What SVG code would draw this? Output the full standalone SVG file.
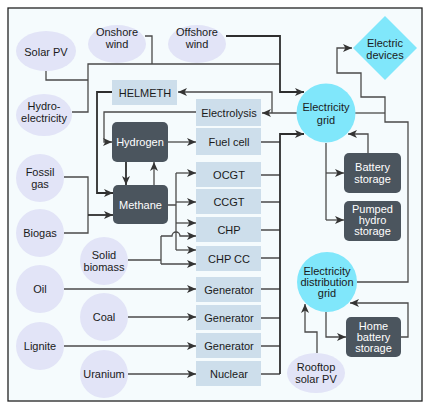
<svg xmlns="http://www.w3.org/2000/svg" width="424" height="404" viewBox="0 0 424 404">
  <style>
    text { font-family: "Liberation Sans", Arial, sans-serif; font-size: 11px; fill: #1a1a1a; text-anchor: middle; }
    .src { fill: #e2e4f7; }
    .conv { fill: #cddeeb; }
    .store { fill: #4b555e; }
    .store-t { fill: #ffffff; }
    .grid { fill: #80e7fb; }
    .ln { fill: none; stroke: #4a4a4a; stroke-width: 1.3; }
    .ln-a { fill: none; stroke: #4a4a4a; stroke-width: 1.3; marker-end: url(#arr); }
    .heavy { stroke: #2e2e2e; stroke-width: 1.8; }
  </style>
  <defs>
    <marker id="arr" markerUnits="userSpaceOnUse" markerWidth="10" markerHeight="9" refX="9" refY="4" orient="auto">
      <path d="M0,0 L9,4 L0,8 L2.4,4 z" fill="#333"/>
    </marker>
  </defs>

  <!-- frame -->
  <rect x="0" y="0" width="424" height="404" fill="#ffffff"/>
  <rect x="8" y="8" width="414" height="393" fill="#f5fbfd" stroke="#222" stroke-width="1.3"/>

  <!-- connectors -->
  <g id="connectors">
    <!-- renewables bus -->
    <path class="ln" d="M145,36 H152 V64"/>
    <path class="ln" d="M46,71 V80 H88"/>
    <path class="ln" d="M72,112 H88 V64 H280"/>
    <path class="ln-a heavy" d="M226,36 H280 V92 H304"/>
    <!-- grid to electrolysis and HELMETH -->
    <path class="ln-a" d="M297,113 H262"/>
    <path class="ln-a" d="M272,113 V92 H178"/>
    <!-- gas chain -->
    <path class="ln-a" d="M196,112 H104 V142 H112"/>
    <path class="ln-a heavy" d="M112,92 H97 V193 H113"/>
    <path class="ln" d="M64,177 H88 V215"/>
    <path class="ln" d="M64,233 H88 V215"/>
    <path class="ln-a heavy" d="M88,215 H113"/>
    <path class="ln-a heavy" d="M126,162 V185"/>
    <path class="ln-a" d="M154,185 V162"/>
    <path class="ln-a" d="M168,142 H196"/>
    <!-- methane to gas plants -->
    <path class="ln" d="M168,205 H176 M176,173 V250"/>
    <path class="ln-a" d="M176,173 H196"/>
    <path class="ln-a" d="M176,202 H196"/>
    <path class="ln-a" d="M176,223 H196"/>
    <path class="ln-a" d="M176,250 H196"/>
    <!-- solid biomass to CHP -->
    <path class="ln" d="M128,260 H161 M161,236 V264"/>
    <path class="ln-a" d="M161,236 H172 a4,4 0 0 1 8,0 H196"/>
    <path class="ln-a" d="M161,264 H196"/>
    <!-- fuel lines to generators -->
    <path class="ln-a" d="M64,289 H196"/>
    <path class="ln-a" d="M128,317 H196"/>
    <path class="ln-a" d="M64,346 H196"/>
    <path class="ln-a" d="M128,374 H196"/>
    <!-- plants to grid -->
    <path class="ln" d="M261,142 H280 M261,175 H280 M261,202 H280 M261,230 H280 M261,258 H280 M261,289 H280 M261,318 H280 M261,346 H280 M261,374 H280"/>
    <path class="ln-a heavy" d="M280,374 V134 H304"/>
    <!-- grid storage -->
    <path class="ln" d="M326,143 V220"/>
    <path class="ln-a" d="M326,173 H344"/>
    <path class="ln-a" d="M326,220 H344"/>
    <path class="ln-a" d="M368,153 V134 H348"/>
    <!-- grid / distribution grid / devices -->
    <path class="ln" d="M355,113 H385"/>
    <path class="ln-a" d="M357,282 H408 V122 H385 V97 H361 V73 H337 V48 H352"/>
    <!-- distribution grid side -->
    <path class="ln-a" d="M317,353 V332 H305 V304"/>
    <path class="ln-a" d="M326,312 V337 H346"/>
    <path class="ln-a" d="M401,337 H408 V303 H350"/>
  </g>

  <!-- primary sources -->
  <g id="solar-pv"><ellipse class="src" cx="46" cy="51" rx="30" ry="20"/><text x="46" y="56">Solar PV</text></g>
  <g id="onshore-wind"><ellipse class="src" cx="117" cy="44" rx="29" ry="19"/><text x="117" y="36">Onshore</text><text x="117" y="48">wind</text></g>
  <g id="offshore-wind"><ellipse class="src" cx="197" cy="44" rx="29" ry="19"/><text x="197" y="36">Offshore</text><text x="197" y="48">wind</text></g>
  <g id="hydro"><ellipse class="src" cx="44" cy="115" rx="28" ry="21"/><text x="44" y="110">Hydro-</text><text x="44" y="122">electricity</text></g>
  <g id="fossil-gas"><circle class="src" cx="40" cy="178" r="24"/><text x="40" y="176">Fossil</text><text x="40" y="188">gas</text></g>
  <g id="biogas"><circle class="src" cx="40" cy="233" r="24"/><text x="40" y="237">Biogas</text></g>
  <g id="solid-biomass"><circle class="src" cx="104" cy="261" r="24"/><text x="104" y="259">Solid</text><text x="104" y="271">biomass</text></g>
  <g id="oil"><circle class="src" cx="40" cy="289" r="24"/><text x="40" y="293">Oil</text></g>
  <g id="coal"><circle class="src" cx="104" cy="317" r="24"/><text x="104" y="321">Coal</text></g>
  <g id="lignite"><circle class="src" cx="40" cy="346" r="24"/><text x="40" y="350">Lignite</text></g>
  <g id="uranium"><circle class="src" cx="104" cy="374" r="24"/><text x="104" y="378">Uranium</text></g>
  <g id="rooftop-pv"><ellipse class="src" cx="316" cy="373" rx="29" ry="20"/><text x="316" y="371">Rooftop</text><text x="316" y="383">solar PV</text></g>

  <!-- conversion plants -->
  <g id="helmeth"><rect class="conv" x="112" y="80" width="65" height="25"/><text x="145" y="97">HELMETH</text></g>
  <g id="electrolysis"><rect class="conv" x="196" y="99" width="65" height="27"/><text x="229" y="117">Electrolysis</text></g>
  <g id="fuel-cell"><rect class="conv" x="196" y="128" width="65" height="27"/><text x="229" y="146">Fuel cell</text></g>
  <g id="ocgt"><rect class="conv" x="196" y="162" width="65" height="25"/><text x="229" y="179">OCGT</text></g>
  <g id="ccgt"><rect class="conv" x="196" y="189" width="65" height="25"/><text x="229" y="206">CCGT</text></g>
  <g id="chp"><rect class="conv" x="196" y="217" width="65" height="25"/><text x="229" y="234">CHP</text></g>
  <g id="chp-cc"><rect class="conv" x="196" y="246" width="65" height="25"/><text x="229" y="263">CHP CC</text></g>
  <g id="generator-oil"><rect class="conv" x="196" y="277" width="65" height="25"/><text x="229" y="294">Generator</text></g>
  <g id="generator-coal"><rect class="conv" x="196" y="305" width="65" height="25"/><text x="229" y="322">Generator</text></g>
  <g id="generator-lignite"><rect class="conv" x="196" y="333" width="65" height="25"/><text x="229" y="350">Generator</text></g>
  <g id="nuclear"><rect class="conv" x="196" y="361" width="65" height="25"/><text x="229" y="378">Nuclear</text></g>

  <!-- gas and storage -->
  <g id="hydrogen"><rect class="store" x="112" y="122" width="56" height="40" rx="5"/><text class="store-t" x="140" y="146">Hydrogen</text></g>
  <g id="methane"><rect class="store" x="113" y="185" width="55" height="39" rx="5"/><text class="store-t" x="140.5" y="209">Methane</text></g>
  <g id="battery"><rect class="store" x="344" y="153" width="57" height="40" rx="5"/><text class="store-t" x="372.5" y="171">Battery</text><text class="store-t" x="372.5" y="183">storage</text></g>
  <g id="pumped-hydro"><rect class="store" x="344" y="201" width="57" height="40" rx="5"/><text class="store-t" x="372.5" y="213">Pumped</text><text class="store-t" x="372.5" y="224">hydro</text><text class="store-t" x="372.5" y="235">storage</text></g>
  <g id="home-battery"><rect class="store" x="346" y="317" width="55" height="40" rx="5"/><text class="store-t" x="373.5" y="330">Home</text><text class="store-t" x="373.5" y="341">battery</text><text class="store-t" x="373.5" y="352">storage</text></g>

  <!-- grids and consumers -->
  <g id="electricity-grid"><circle class="grid" cx="326" cy="113" r="29.5"/><text x="326" y="111">Electricity</text><text x="326" y="123.5">grid</text></g>
  <g id="distribution-grid"><circle class="grid" cx="327" cy="282" r="30"/><text x="327" y="275">Electricity</text><text x="327" y="286">distribution</text><text x="327" y="297">grid</text></g>
  <g id="electric-devices"><polygon class="grid" points="385,16 417,48 385,80 353,48"/><text x="385" y="47">Electric</text><text x="385" y="59">devices</text></g>
</svg>
